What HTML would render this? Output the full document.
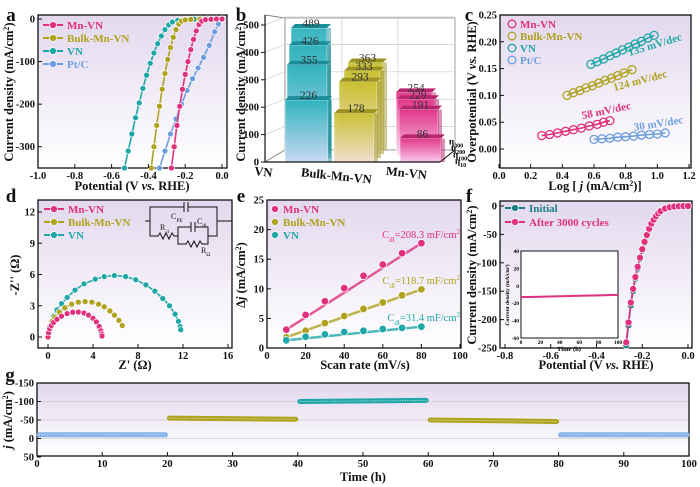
<!DOCTYPE html>
<html><head><meta charset="utf-8"><style>
html,body{margin:0;padding:0;background:#fff;width:700px;height:487px;overflow:hidden}
svg{display:block;font-family:"Liberation Serif",serif}
.tk{font-size:10.5px;font-weight:bold;fill:#111}
.ti{font-size:12.5px;font-weight:bold;fill:#111}
.pl{font-size:19px;font-weight:bold;fill:#111}
.lg{font-size:11px;font-weight:bold}
</style></head><body>
<svg id="fig" width="700" height="487" viewBox="0 0 700 487" xmlns="http://www.w3.org/2000/svg">
<defs>
<linearGradient id="bg" x1="0" y1="0" x2="0" y2="1"><stop offset="0" stop-color="#e3d8ee"/><stop offset="1" stop-color="#ffffff"/></linearGradient>
<linearGradient id="gVN" x1="0" y1="0" x2="0" y2="1"><stop offset="0" stop-color="#2fb3bd"/><stop offset="1" stop-color="#c9d8f4"/></linearGradient>
<linearGradient id="gBK" x1="0" y1="0" x2="0" y2="1"><stop offset="0" stop-color="#c9c031"/><stop offset="1" stop-color="#f2dfd0"/></linearGradient>
<linearGradient id="gMN" x1="0" y1="0" x2="0" y2="1"><stop offset="0" stop-color="#e2378a"/><stop offset="1" stop-color="#f8c6ea"/></linearGradient>
</defs>
</svg>
<script>
// ---------- data ----------
const aMnV=[-0.275,-0.26,-0.245,-0.23,-0.215,-0.2,-0.185,-0.17,-0.155,-0.14,-0.125,-0.11,-0.09,-0.06,-0.03,0];
const aMnJ=[-350,-300,-250,-205,-165,-130,-100,-72,-48,-28,-13,-5,-1.5,-0.5,0,0];
const aBkV=[-0.385,-0.37,-0.355,-0.34,-0.325,-0.31,-0.295,-0.28,-0.265,-0.25,-0.235,-0.22,-0.2,-0.17,-0.12,-0.06,0];
const aBkJ=[-350,-300,-250,-205,-165,-128,-95,-67,-43,-25,-12,-5,-2,-0.8,-0.3,0,0];
const aVNV=[-0.53,-0.51,-0.49,-0.47,-0.45,-0.43,-0.41,-0.39,-0.37,-0.35,-0.33,-0.31,-0.29,-0.27,-0.24,-0.2,-0.15,-0.08,0];
const aVNJ=[-350,-310,-270,-232,-197,-163,-132,-104,-80,-58,-40,-25,-14,-7,-3,-1,-0.3,0,0];
const aPtV=[-0.34,-0.31,-0.28,-0.25,-0.22,-0.19,-0.16,-0.13,-0.10,-0.07,-0.04,-0.02,0];
const aPtJ=[-350,-310,-270,-235,-200,-168,-140,-115,-90,-62,-30,-12,0];

const bCats=["VN","Bulk-Mn-VN","Mn-VN"];
const bVN=[226,355,426,489];
const bBulk=[178,293,333,363];
const bMn=[86,191,229,254];
const bLayers=["η10","η100","η200","η300"];

const cMnX=[0.27,0.32,0.37,0.42,0.47,0.52,0.57,0.62,0.66,0.70];
const cMnY=[0.025,0.027,0.030,0.033,0.036,0.039,0.043,0.046,0.050,0.053];
const cBkX=[0.43,0.47,0.51,0.55,0.59,0.63,0.67,0.71,0.75,0.79,0.84];
const cBkY=[0.100,0.105,0.109,0.114,0.118,0.123,0.128,0.132,0.137,0.142,0.148];
const cVNX=[0.58,0.62,0.66,0.70,0.74,0.78,0.82,0.86,0.90,0.94,0.98];
const cVNY=[0.158,0.163,0.168,0.174,0.179,0.185,0.190,0.196,0.201,0.207,0.212];
const cPtX=[0.60,0.65,0.70,0.75,0.80,0.85,0.90,0.95,1.00,1.05];
const cPtY=[0.018,0.019,0.020,0.022,0.023,0.024,0.026,0.027,0.028,0.030];
const cSlopes=["58 mV/dec","124 mV/dec","135 mV/dec","30 mV/dec"];

const dMnR=[0,0.05,0.15,0.3,0.5,0.8,1.2,1.7,2.2,2.7,3.2,3.6,4.0,4.3,4.55,4.7,4.78,4.8];
const dMnI=[0,0.4,0.8,1.1,1.4,1.7,2.0,2.25,2.38,2.4,2.3,2.1,1.8,1.45,1.0,0.6,0.3,0.1];
const dBkR=[0,0.05,0.15,0.35,0.6,1.0,1.5,2.1,2.7,3.3,3.9,4.5,5.0,5.5,5.9,6.3,6.6];
const dBkI=[0,0.5,1.0,1.5,1.9,2.4,2.8,3.15,3.35,3.4,3.35,3.15,2.9,2.5,2.1,1.6,1.1];
const dVNR=[0,0.05,0.15,0.3,0.5,0.8,1.2,1.7,2.4,3.2,4.2,5.0,5.9,6.9,7.8,8.7,9.5,10.2,10.8,11.3,11.6,11.75,11.8];
const dVNI=[0,0.5,1.0,1.5,2.0,2.6,3.2,3.8,4.5,5.1,5.55,5.8,5.9,5.8,5.5,5.0,4.4,3.7,3.0,2.2,1.5,1.0,0.7];

const eRate=[10,20,30,40,50,60,70,80];
const eMn=[3.1,5.6,7.9,10.1,12.2,14.1,16.0,17.7];
const eBk=[1.8,2.9,4.2,5.4,6.6,7.7,8.9,9.9];
const eVN=[1.3,1.9,2.3,2.7,2.9,3.2,3.4,3.6];
const eCdl=["208.3","118.7","31.4"];

const fV=[-0.27,-0.26,-0.25,-0.24,-0.23,-0.22,-0.21,-0.20,-0.19,-0.18,-0.17,-0.16,-0.15,-0.14,-0.13,-0.12,-0.10,-0.08,-0.06,-0.04,-0.02,0.0];
const fInit=[-245,-210,-175,-150,-128,-110,-93,-78,-65,-53,-42,-33,-25,-19,-14,-10,-5,-2.5,-1.2,-0.5,-0.2,0];
const fAfter=[-240,-205,-170,-146,-125,-107,-91,-76,-63,-51,-40,-31,-24,-18,-13,-9,-4.5,-2.2,-1,-0.4,-0.1,0];
const fInT=[0,20,40,60,80,100];
const fInJ=[-13,-12.5,-12,-11.5,-11,-10.5];

const gStart=[0,20,40,60,80];
const gEnd=[20,40,60,80,100];
const gJ0=[-10,-55,-100,-50,-10];
const gJ1=[-10,-52,-103,-46,-10];

// ---------- helpers ----------
const C={mn:"#e0307e",bk:"#aea21e",vn:"#1fa7a8",pt:"#6d9ee0",g:"#86b3ea"};
const svg=document.getElementById('fig');
const NS="http://www.w3.org/2000/svg";
function mk(t,a,p){const e=document.createElementNS(NS,t);for(const k in a)e.setAttribute(k,a[k]);(p||svg).appendChild(e);return e;}
function nm(e,n,i){


return e;}
function lin(d0,d1,r0,r1){return v=>r0+(v-d0)*(r1-r0)/(d1-d0);}
function txt(x,y,s,cls,anchor,extra,p){const e=mk('text',Object.assign({x:x,y:y,class:cls,'text-anchor':anchor||'middle'},extra||{}),p);e.textContent=s;return e;}
function frame(name,x0,y0,x1,y1,grad){const g=nm(mk('g',{}),name);
nm(mk('rect',{x:x0,y:y0,width:x1-x0,height:y1-y0,fill:grad?'url(#bg)':'#fff',stroke:'#111','stroke-width':1.3},g),name+'-frame');return g;}
function ticksX(g,vals,sx,y1,fmt,name){vals.forEach(v=>{mk('line',{x1:sx(v),x2:sx(v),y1:y1,y2:y1-4,stroke:'#111','stroke-width':1},g);nm(txt(sx(v),y1+11,fmt(v),'tk'),name+'-tick-label');});}
function ticksY(g,vals,sy,x0,fmt,name){vals.forEach(v=>{mk('line',{x1:x0,x2:x0+4,y1:sy(v),y2:sy(v),stroke:'#111','stroke-width':1},g);nm(txt(x0-3,sy(v)+3.5,fmt(v),'tk','end'),name+'-tick-label');});}
function ytitle(x,y,s,name){const e=nm(txt(x,y,'', 'ti','middle',{transform:`rotate(-90 ${x} ${y})`}),name);e.innerHTML=s;return e;}
function pathOf(xs,ys,sx,sy){return xs.map((v,i)=>(i?'L':'M')+sx(v).toFixed(1)+' '+sy(ys[i]).toFixed(1)).join(' ');}
function series(g,xs,ys,sx,sy,col,name,r,open){nm(mk('path',{d:pathOf(xs,ys,sx,sy),fill:'none',stroke:col,'stroke-width':1.6},g),name+'-line');
xs.forEach((v,i)=>{const c=mk('circle',{cx:sx(v),cy:sy(ys[i]),r:r,fill:open?'none':col,stroke:open?col:'#fff','stroke-width':open?1.3:0.7},g);

});}
function legend(g,x,y,col,label,kind){const e=nm(mk('g',{},g),'legend-entry');
if(kind!=='dot'&&kind!=='open')mk('line',{x1:x,x2:x+20,y1:y,y2:y,stroke:col,'stroke-width':2},e);
mk('circle',{cx:x+10,cy:y,r:kind==='open'?3.8:3.5,fill:kind==='open'?'none':col,stroke:kind==='open'?col:'#fff','stroke-width':kind==='open'?1.3:0.7},e);
txt(x+(kind==='dot'||kind==='open'?18:24),y+4,label,'lg','start',{fill:col},e);}
function range(a,b,s){const r=[];for(let v=a;v<=b+1e-9;v+=s)r.push(+v.toFixed(3));return r;}

// ---------- panel a ----------
{const g=frame('panel-a',38,15,227,168,true);
const sx=lin(-1,0.027,38,227), sy=lin(0,-350,19,168);
series(g,aPtV,aPtJ,sx,sy,C.pt,'pt-c',3);
series(g,aVNV,aVNJ,sx,sy,C.vn,'vn',3);
series(g,aBkV,aBkJ,sx,sy,C.bk,'bulk-mn-vn',3);
series(g,aMnV,aMnJ,sx,sy,C.mn,'mn-vn',3);
ticksX(g,range(-1,0,0.2),sx,168,v=>v.toFixed(1),'a-x');
ticksY(g,[0,-100,-200,-300],sy,38,v=>v,'a-y');
legend(g,43,25,C.mn,'Mn-VN');legend(g,43,38,C.bk,'Bulk-Mn-VN');legend(g,43,51,C.vn,'VN');legend(g,43,64,C.pt,'Pt/C');
nm(txt(132,190,'','ti'),'a-x-title').innerHTML='Potential (V <tspan font-style="italic">vs.</tspan> RHE)';
ytitle(13,92,'Current density (mA/cm<tspan baseline-shift="super" font-size="8">2</tspan>)','a-y-title');
nm(txt(11,21,'a','pl'),'panel-label-a');}

// ---------- panel b ----------
{const g=nm(mk('g',{}),'panel-b');
const sy=lin(0,500,162,25);
mk('polygon',{points:'265,15 285,18 285,150 265,162',fill:'#fff',stroke:'#666','stroke-width':0.8},g);
mk('polygon',{points:'285,18 455,18 455,150 285,150',fill:'#fff',stroke:'#888','stroke-width':0.8},g);
mk('polygon',{points:'265,162 285,150 455,150 440,162',fill:'#fff',stroke:'#888','stroke-width':0.8},g);
[100,200,300,400,500].forEach(v=>{mk('line',{x1:285,x2:455,y1:sy(v)-8,y2:sy(v)-8,stroke:'#ccc','stroke-width':0.7},g);mk('line',{x1:265,x2:285,y1:sy(v),y2:sy(v)-8,stroke:'#ccc','stroke-width':0.7},g);});
[342,398].forEach(x=>mk('line',{x1:x,x2:x,y1:18,y2:150,stroke:'#ccc','stroke-width':0.7},g));
const groups=[[bVN,'url(#gVN)','#1b8f99',[[285,328],[287,327],[289,327],[291,327]]],
[bBulk,'url(#gBK)','#9c9420',[[334,374],[339,377],[344,380],[348,383]]],
[bMn,'url(#gMN)','#b9266d',[[400,441],[399,438],[397,435],[396,432]]]];
groups.forEach((gr,gi)=>{const vals=gr[0];
for(let k=vals.length-1;k>=0;k--){const [x0,x1]=gr[3][k];const top=sy(vals[k]);const base=162-k*4;
const b=mk('g',{},g);


mk('rect',{x:x0,y:top,width:x1-x0,height:base-top,fill:gr[1],stroke:'#fff','stroke-width':0.5,opacity:0.95},b);
mk('polygon',{points:`${x0},${top} ${x1},${top} ${x1+4},${top-4} ${x0+4},${top-4}`,fill:gr[2]},b);
mk('rect',{x:x1,y:top,width:4,height:base-top,fill:gr[2],opacity:0.5},b);
txt((x0+x1)/2+2,top-1,String(vals[k]),'','middle',{'font-size':11.5,fill:'#333'},b);}});
mk('line',{x1:265,x2:265,y1:15,y2:162,stroke:'#111','stroke-width':1.2},g);
mk('line',{x1:265,x2:440,y1:162,y2:162,stroke:'#111','stroke-width':1.2},g);
mk('line',{x1:440,x2:455,y1:162,y2:150,stroke:'#111','stroke-width':1},g);
[0,100,200,300,400,500].forEach(v=>{mk('line',{x1:265,x2:261,y1:sy(v),y2:sy(v),stroke:'#111'},g);nm(txt(259,sy(v)+3.5,String(v),'tk','end'),'b-y-tick-label');});
nm(txt(263,176,bCats[0],'ti','middle',{transform:'rotate(6 263 176)'}),'b-category-label');
nm(txt(336,180,bCats[1],'ti','middle',{transform:'rotate(6 336 180)'}),'b-category-label');
nm(txt(406,177,bCats[2],'ti','middle',{transform:'rotate(6 406 177)'}),'b-category-label');
bLayers.forEach((s,i)=>{const e=nm(txt(455-i*2,164-i*6.5,'','','start',{'font-size':9,'font-weight':'bold'}),'b-depth-label');e.innerHTML='η<tspan font-size="6" baseline-shift="sub">'+s.slice(1)+'</tspan>';});
ytitle(245,92,'Current density (mA/cm<tspan baseline-shift="super" font-size="8">2</tspan>)','b-y-title');
nm(txt(241,21,'b','pl'),'panel-label-b');}

// ---------- panel c ----------
{const g=frame('panel-c',500,15,691,168,true);
const sx=lin(0,1.2,499,689), sy=lin(0,0.25,149,15);
const S=[[cMnX,cMnY,C.mn,'mn-vn'],[cBkX,cBkY,C.bk,'bulk-mn-vn'],[cVNX,cVNY,C.vn,'vn'],[cPtX,cPtY,C.pt,'pt-c']];
S.forEach(s=>series(g,s[0],s[1],sx,sy,s[2],s[3],4,true));
ticksX(g,range(0,1.2,0.2),sx,168,v=>v.toFixed(1),'c-x');
ticksY(g,range(0,0.25,0.05),sy,500,v=>v.toFixed(2),'c-y');
legend(g,502,24,C.mn,'Mn-VN','open');legend(g,502,36,C.bk,'Bulk-Mn-VN','open');legend(g,502,48,C.vn,'VN','open');legend(g,502,60,C.pt,'Pt/C','open');
[[607,114,-12,C.mn],[641,84,-15,C.bk],[656,48,-17,C.vn],[659,127,-9,C.pt]].forEach((p,i)=>nm(txt(p[0],p[1],cSlopes[i],'lg','middle',{fill:p[3],transform:`rotate(${p[2]} ${p[0]} ${p[1]})`}),'tafel-slope-label'));
nm(txt(595,190,'','ti'),'c-x-title').innerHTML='Log [ <tspan font-style="italic">j</tspan> (mA/cm<tspan baseline-shift="super" font-size="8">2</tspan>)]';
ytitle(476,92,'Overpotential (V <tspan font-style="italic">vs.</tspan> RHE)','c-y-title');
nm(txt(469,21,'c','pl'),'panel-label-c');}

// ---------- panel d ----------
{const g=frame('panel-d',38,200,232,348,true);
const sx=lin(0,16,48,228), sy=lin(0,12,337,212);
series(g,dVNR,dVNI,sx,sy,C.vn,'vn',3);
series(g,dBkR,dBkI,sx,sy,C.bk,'bulk-mn-vn',3);
series(g,dMnR,dMnI,sx,sy,C.mn,'mn-vn',3);
ticksX(g,[0,4,8,12,16],sx,348,v=>v,'d-x');
ticksY(g,[0,3,6,9,12],sy,38,v=>v,'d-y');
legend(g,44,209,C.mn,'Mn-VN');legend(g,44,222,C.bk,'Bulk-Mn-VN');legend(g,44,235,C.vn,'VN');
const ci=nm(mk('g',{stroke:'#111','stroke-width':1,fill:'none'},g),'equivalent-circuit');
mk('path',{d:'M145 221 H150 V207 H184 M188 207 H217 V221 H232 M150 221 V236 H158 l2 -3 l3 6 l3 -6 l3 6 l3 -6 l2 3 H178 V227 H191 M195 227 H208 V236 H217 V221 M178 236 V244 H186 l2 -3 l3 6 l3 -6 l3 6 l3 -6 l2 3 H208 V236'},ci);
mk('path',{d:'M184 202 V212 M188 202 V212 M191 222 V232 M195 222 V232'},ci);
const sub=(x,y,m,s)=>{const e=nm(txt(x,y,'','','start',{'font-size':8,fill:'#111'}),'circuit-label');e.innerHTML=m+'<tspan font-size="5.5" baseline-shift="sub">'+s+'</tspan>';};
sub(171,219,'C','PE');sub(160,230,'R','ct');sub(197,224,'C','dl');sub(201,253,'R','Ω');
nm(txt(135,369,"Z' (Ω)",'ti'),'d-x-title');
ytitle(19,275,"-Z'' (Ω)",'d-y-title');
nm(txt(11,202,'d','pl'),'panel-label-d');}

// ---------- panel e ----------
{const g=frame('panel-e',267,200,461,348,true);
const sx=lin(0,100,267,460), sy=lin(0,25,348,200);
[[eMn,C.mn,'mn-vn'],[eBk,C.bk,'bulk-mn-vn'],[eVN,C.vn,'vn']].forEach(s=>{
const n=eRate.length;nm(mk('line',{x1:sx(eRate[0]),y1:sy(s[0][0]),x2:sx(eRate[n-1]),y2:sy(s[0][n-1]),stroke:s[1],'stroke-width':2.5,opacity:0.8},g),s[2]+'-fit');
eRate.forEach((v,i)=>{const c=mk('circle',{cx:sx(v),cy:sy(s[0][i]),r:3.8,fill:s[1],stroke:'#fff','stroke-width':0.8},g);

});});
ticksX(g,range(0,100,20),sx,348,v=>v,'e-x');
ticksY(g,range(0,25,5),sy,267,v=>v,'e-y');
legend(g,265,209,C.mn,'Mn-VN','dot');legend(g,265,222,C.bk,'Bulk-Mn-VN','dot');legend(g,265,235,C.vn,'VN','dot');
[[238,C.mn],[284,C.bk],[321,C.vn]].forEach((p,i)=>{const e=nm(txt(460,p[0],'','','end',{'font-size':10.5,fill:p[1]}),'cdl-label');e.innerHTML='C<tspan font-size="7" baseline-shift="sub">dl</tspan>='+eCdl[i]+' mF/cm<tspan font-size="7" baseline-shift="super">2</tspan>';});
nm(txt(365,369,'Scan rate (mV/s)','ti'),'e-x-title');
ytitle(245,275,'Δ<tspan font-style="italic">j</tspan> (mA/cm<tspan baseline-shift="super" font-size="8">2</tspan>)','e-y-title');
nm(txt(241,202,'e','pl'),'panel-label-e');}

// ---------- panel f ----------
{const g=frame('panel-f',500,201,692,348,true);
const sx=lin(-0.8,0,505,688), sy=lin(0,-250,206,348);
series(g,fV,fInit,sx,sy,'#1b7f86','initial',3.5);
series(g,fV,fAfter,sx,sy,C.mn,'after-3000-cycles',3.5);
ticksX(g,range(-0.8,0,0.2),sx,348,v=>v.toFixed(1),'f-x');
ticksY(g,range(-250,0,50),sy,500,v=>v,'f-y');
legend(g,505,208,'#1b7f86','Initial');legend(g,505,222,C.mn,'After 3000 cycles');
const ig=nm(mk('g',{},g),'inset-chart');
mk('rect',{x:521,y:251,width:97,height:87,fill:'#fff',stroke:'#111','stroke-width':1},ig);
const ix=lin(0,100,521,618), iy=lin(40,-60,251,338);
nm(mk('path',{d:pathOf(fInT,fInJ,ix,iy),fill:'none',stroke:C.mn,'stroke-width':2},ig),'inset-line');
[0,20,40,60,80,100].forEach(v=>txt(ix(v),344,String(v),'','middle',{'font-size':5.5,'font-weight':'bold'},ig));
[40,20,0,-20,-40,-60].forEach(v=>txt(519,iy(v)+2,String(v),'','end',{'font-size':5.5,'font-weight':'bold'},ig));
txt(569,351,'Time (h)','','middle',{'font-size':6.5,'font-weight':'bold'},ig);
txt(509,295,'Current density (mA/cm²)','','middle',{'font-size':5.5,'font-weight':'bold',transform:'rotate(-90 509 295)'},ig);
nm(txt(596,369,'','ti'),'f-x-title').innerHTML='Potential (V <tspan font-style="italic">vs.</tspan> RHE)';
ytitle(476,275,'Current density (mA/cm<tspan baseline-shift="super" font-size="8">2</tspan>)','f-y-title');
nm(txt(469,202,'f','pl'),'panel-label-f');}

// ---------- panel g ----------
{const g=frame('panel-g',37,383,689,456,true);
const sx=lin(0,100,37,689), sy=lin(-150,50,383,457);
[-100,-50,0].forEach(v=>mk('line',{x1:38,x2:688,y1:sy(v),y2:sy(v),stroke:'#ccc','stroke-width':0.8},g));
const cols=[C.g,C.bk,C.vn,C.bk,C.g];
gStart.forEach((t,i)=>{const s=mk('g',{},g);


mk('line',{x1:sx(t)+2,y1:sy(gJ0[i]),x2:sx(gEnd[i])-2,y2:sy(gJ1[i]),stroke:cols[i],'stroke-width':5,'stroke-linecap':'round'},s);
mk('line',{x1:sx(t)+2,y1:sy(gJ0[i]),x2:sx(gEnd[i])-2,y2:sy(gJ1[i]),stroke:'#fff','stroke-width':1,'stroke-dasharray':'1 1.5',opacity:0.7},s);});
ticksX(g,range(0,100,10),sx,456,v=>v,'g-x');
ticksY(g,[-150,-100,-50,0,50],sy,37,v=>v,'g-y');
nm(txt(363,481,'Time (h)','ti'),'g-x-title');
ytitle(12,420,'<tspan font-style="italic">j</tspan> (mA/cm<tspan baseline-shift="super" font-size="8">2</tspan>)','g-y-title');
nm(txt(10,381,'g','pl'),'panel-label-g');}
</script>
</body></html>
